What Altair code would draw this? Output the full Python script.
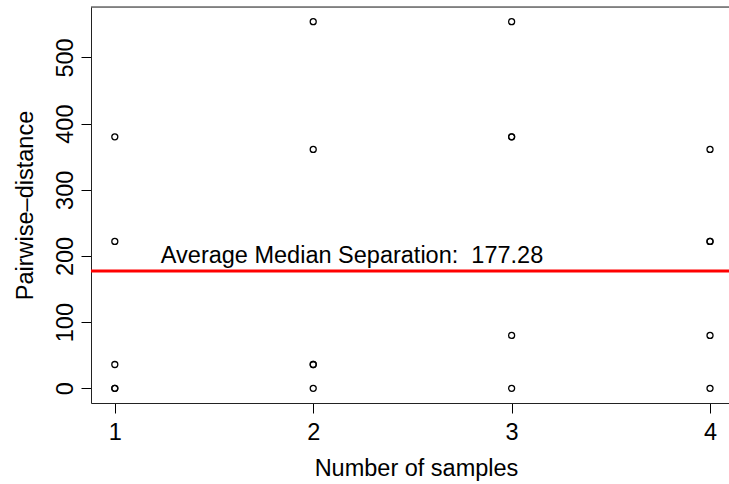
import altair as alt
import pandas as pd

# Pairwise distances observed for each number of samples
samples = [1, 1, 1, 1, 1,
           2, 2, 2, 2, 2,
           3, 3, 3, 3, 3,
           4, 4, 4, 4, 4]
distances = [380, 222, 36, 0, 0,
             554, 361, 36, 36, 0,
             554, 380, 380, 80, 0,
             361, 222, 222, 80, 0]

avg_median_sep = 177.28
label_x = 1.232
label_y = 189.4

x_ticks = [1, 2, 3, 4]
y_ticks = [0, 100, 200, 300, 400, 500]

FONT = "Liberation Sans"
FS = 23.5
W, H = 638, 396

df = pd.DataFrame({"samples": samples, "distance": distances})

x_scale = alt.Scale(domain=[0.88, 4.0957], nice=False, zero=False)
y_scale = alt.Scale(domain=[-22.16, 576.16], nice=False, zero=False)

points = alt.Chart(df).mark_point(
    shape="circle", filled=False, stroke="black", strokeWidth=1.3, size=36, opacity=1
).encode(
    x=alt.X("samples:Q", scale=x_scale,
            axis=alt.Axis(values=x_ticks, format="d", title="Number of samples", grid=False,
                          tickSize=10, labelPadding=7, labelFontSize=FS, labelFont=FONT,
                          labelColor="black", tickColor="black", domainColor="#222222",
                          titleFont=FONT, titleFontSize=FS, titleFontWeight="normal",
                          titleColor="black", titleX=325, titleY=72,
                          titleBaseline="alphabetic", titleAlign="center",
                          labelFlush=False, labelOverlap=False)),
    y=alt.Y("distance:Q", scale=y_scale,
            axis=alt.Axis(values=y_ticks, format="d", title="Pairwise\u2013distance", grid=False,
                          tickSize=10, labelPadding=9, labelFontSize=FS, labelFont=FONT,
                          labelAngle=-90, labelAlign="center", labelBaseline="alphabetic",
                          labelColor="black", tickColor="black", domainColor="#222222",
                          titleFont=FONT, titleFontSize=FS, titleFontWeight="normal",
                          titleColor="black", titleAngle=-90, titleX=-59, titleY=198,
                          titleBaseline="alphabetic", titleAlign="center",
                          labelFlush=False, labelOverlap=False)),
)

line_df = pd.DataFrame({"value": [avg_median_sep]})
avg_line = alt.Chart(line_df).mark_rule(color="#ff0000", strokeWidth=2.8).encode(
    y=alt.Y("value:Q", scale=y_scale)
)

label_df = pd.DataFrame({
    "x": [label_x], "y": [label_y],
    "text": [f"Average Median Separation:\u00a0 {avg_median_sep:.2f}"],
})
label = alt.Chart(label_df).mark_text(
    align="left", baseline="alphabetic", font=FONT, fontSize=FS, color="black"
).encode(
    x=alt.X("x:Q", scale=x_scale),
    y=alt.Y("y:Q", scale=y_scale),
    text="text:N",
)

# top edge of the plot frame: a one-pixel band across the plot width
top_edge = alt.Chart(line_df).mark_rect(color="#222222", strokeWidth=0).encode(
    x=alt.value(0), x2=alt.value(W), y=alt.value(-0.5), y2=alt.value(0.5)
)

# the frame is open on the right where the plot runs off the canvas
right_open = alt.Chart(line_df).mark_rect(color="white", strokeWidth=0).encode(
    x=alt.value(W - 1.5), x2=alt.value(W + 2), y=alt.value(1), y2=alt.value(H - 1)
)

chart = alt.layer(points, right_open, avg_line, label, top_edge).properties(
    width=W, height=H,
    autosize=alt.AutoSizeParams(type="none"),
    padding={"left": 91, "top": 7, "right": 0, "bottom": 81},
).configure_view(stroke=None, strokeWidth=0, strokeOpacity=0).configure(background="white")

chart.save("out.html", embed_options={"renderer": "svg", "actions": False})
